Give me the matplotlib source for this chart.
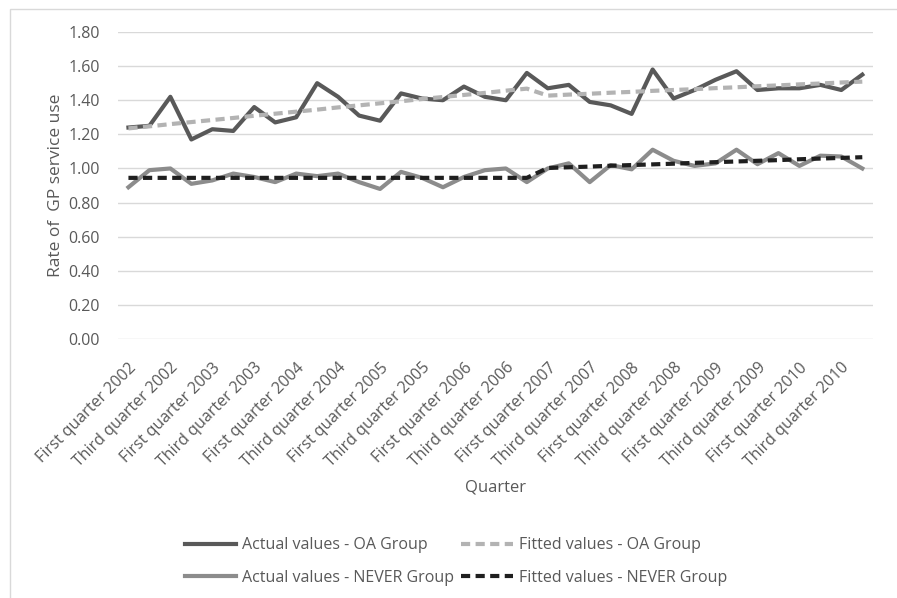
import numpy as np
import matplotlib
matplotlib.use("Agg")
import matplotlib.pyplot as plt
import matplotlib.patches as patches

plt.rcParams['font.family'] = ['Open Sans', 'DejaVu Sans']

# quarters 2002 Q1 .. 2010 Q4, labelled every second quarter
tick_labels = [
    'First quarter 2002', 'Third quarter 2002', 'First quarter 2003', 'Third quarter 2003',
    'First quarter 2004', 'Third quarter 2004', 'First quarter 2005', 'Third quarter 2005',
    'First quarter 2006', 'Third quarter 2006', 'First quarter 2007', 'Third quarter 2007',
    'First quarter 2008', 'Third quarter 2008', 'First quarter 2009', 'Third quarter 2009',
    'First quarter 2010', 'Third quarter 2010',
]

oa_actual = [1.24, 1.25, 1.42, 1.17, 1.23, 1.22, 1.36, 1.27, 1.30, 1.50,
             1.42, 1.31, 1.28, 1.44, 1.41, 1.40, 1.48, 1.42, 1.40, 1.56,
             1.47, 1.49, 1.39, 1.37, 1.32, 1.58, 1.41, 1.46, 1.52, 1.57,
             1.46, 1.47, 1.47, 1.49, 1.46, 1.55]
oa_fitted = [1.235, 1.247, 1.260, 1.272, 1.284, 1.296, 1.309, 1.321, 1.333, 1.345,
             1.358, 1.370, 1.382, 1.394, 1.407, 1.419, 1.431, 1.443, 1.456, 1.468,
             1.427, 1.433, 1.438, 1.444, 1.449, 1.455, 1.460, 1.465, 1.471, 1.476,
             1.482, 1.487, 1.493, 1.498, 1.504, 1.509]
never_actual = [0.89, 0.99, 1.00, 0.91, 0.93, 0.97, 0.95, 0.92, 0.97, 0.955,
                0.97, 0.92, 0.88, 0.98, 0.945, 0.89, 0.95, 0.99, 1.00, 0.92,
                1.00, 1.03, 0.92, 1.02, 0.995, 1.11, 1.045, 1.015, 1.03, 1.11,
                1.025, 1.09, 1.015, 1.075, 1.07, 1.00]
never_fitted = [0.945, 0.945, 0.945, 0.945, 0.945, 0.945, 0.945, 0.945, 0.945, 0.945,
                0.945, 0.945, 0.945, 0.945, 0.945, 0.945, 0.945, 0.945, 0.945, 0.945,
                1.003, 1.007, 1.011, 1.016, 1.020, 1.024, 1.028, 1.033, 1.037, 1.041,
                1.045, 1.049, 1.054, 1.058, 1.062, 1.066]

text_col = '#595959'

fig = plt.figure(figsize=(8.97, 5.98), dpi=100)
ax = fig.add_axes([0.1315, 0.433, 0.8415, 0.5135])

# outer chart border (only top / left visible in the crop)
fig.patches.append(patches.Rectangle((10 / 897, -0.1), 1.2, 1.1 - 9 / 598,
                                     transform=fig.transFigure, fill=False,
                                     edgecolor='#d9d9d9', linewidth=1.0))

x = np.arange(len(oa_actual))
lw = 3.0
dash = (0, (2.2, 1.3))
l1, = ax.plot(x, oa_actual, color='#595959', linewidth=lw, label='Actual values - OA Group')
l2, = ax.plot(x, oa_fitted, color='#b3b3b3', linewidth=lw, linestyle=dash,
              label='Fitted values - OA Group')
l3, = ax.plot(x, never_actual, color='#8c8c8c', linewidth=lw, label='Actual values - NEVER Group')
l4, = ax.plot(x, never_fitted, color='#1f1f1f', linewidth=lw, linestyle=dash,
              label='Fitted values - NEVER Group')

ax.set_xlim(-0.5, len(x) - 0.5)
ax.set_ylim(0, 1.8)
ax.set_yticks(np.arange(0, 1.81, 0.2))
ax.set_yticklabels(['%.2f' % v for v in np.arange(0, 1.81, 0.2)])
ax.set_xticks(x[::2])
ax.set_xticklabels(tick_labels, rotation=45, ha='right', rotation_mode='anchor')
ax.grid(True, axis='y', color='#d9d9d9', linewidth=1.0)
ax.set_axisbelow(True)
for s in ax.spines.values():
    s.set_visible(False)
ax.tick_params(axis='both', length=0, colors=text_col)
ax.tick_params(axis='y', labelsize=11.5, pad=13)
ax.tick_params(axis='x', labelsize=11.5, pad=15)

ax.set_ylabel('Rate of  GP service use', color=text_col, fontsize=12.5, labelpad=3)
fig.text(495 / 897, 1 - 488 / 598, 'Quarter', color=text_col, fontsize=12,
         ha='center', va='center')

# matplotlib fills legend column-wise
leg = fig.legend([l1, l3, l2, l4], [l.get_label() for l in (l1, l3, l2, l4)],
                 loc='center', bbox_to_anchor=(456 / 897, 1 - 561.5 / 598), ncol=2,
                 frameon=False, fontsize=11.5, handlelength=3.2, handletextpad=0.4,
                 columnspacing=0.45, labelspacing=1.05)
for t in leg.get_texts():
    t.set_color(text_col)

fig.savefig('out.png', dpi=100)
